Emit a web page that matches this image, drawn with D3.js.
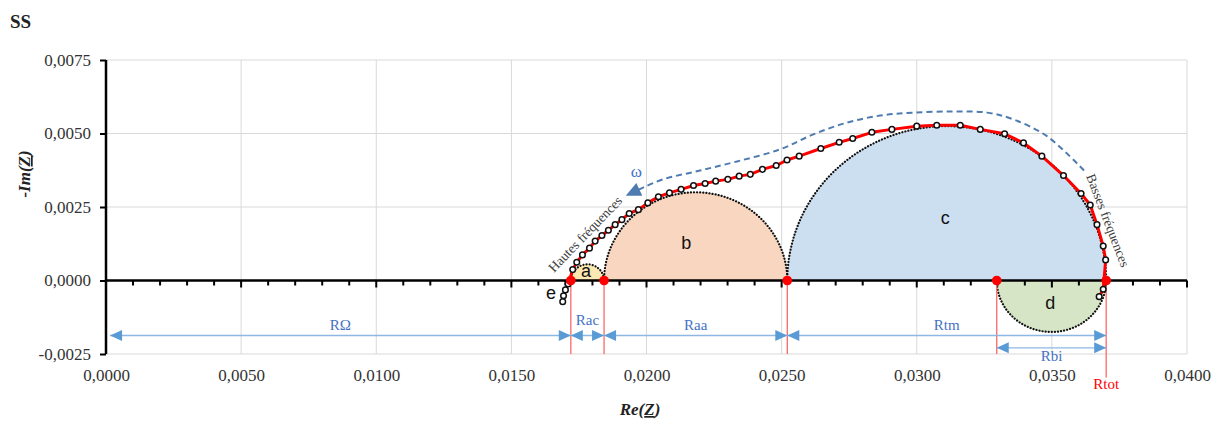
<!DOCTYPE html>
<html><head><meta charset="utf-8">
<script src="https://cdn.jsdelivr.net/npm/d3@7/dist/d3.min.js"></script>
<style>body{margin:0;background:#fff}svg{display:block}</style>
</head><body>
<svg id="chart" width="1218" height="423"></svg>
<script>
// ---- data ----
const reZ = [0.01690,0.01693,0.01700,0.01710,0.01727,0.01742,0.01763,0.01789,0.01810,0.01835,0.01859,0.01884,0.01909,0.01936,0.01970,0.02005,0.02044,0.02085,0.02128,0.02174,0.02217,0.02256,0.02301,0.02343,0.02384,0.02429,0.02480,0.02520,0.02565,0.02645,0.02713,0.02763,0.02834,0.02908,0.03000,0.03074,0.03161,0.03235,0.03325,0.03395,0.03463,0.03543,0.03608,0.03642,0.03667,0.03690,0.03699,0.03690,0.03675];
const imZ = [-0.00072,-0.00052,-0.00032,-0.00012,0.00037,0.00062,0.00087,0.00110,0.00134,0.00153,0.00171,0.00190,0.00207,0.00228,0.00241,0.00264,0.00285,0.00298,0.00310,0.00323,0.00330,0.00338,0.00344,0.00355,0.00361,0.00378,0.00391,0.00410,0.00423,0.00449,0.00470,0.00483,0.00504,0.00514,0.00525,0.00528,0.00528,0.00514,0.00499,0.00468,0.00423,0.00357,0.00296,0.00257,0.00190,0.00117,0.00070,-0.00030,-0.00055];
const resistances = [0.01720,0.01843,0.02521,0.03296,0.03701];
const arcNames = ["a","b","c","d"];
const arcStart = [0.01720,0.01843,0.02521,0.03296];
const arcEnd   = [0.01843,0.02521,0.03701,0.03701];
const arcPeak  = [0.00055,0.00300,0.00525,-0.00175];
const arcColors = ["#FCE8B2","#F8D6BF","#CCDFF1","#D6E5C6"];
const xTicks = [0,0.005,0.010,0.015,0.020,0.025,0.030,0.035,0.040];
const yTicks = [-0.0025,0,0.0025,0.0050,0.0075];
const dimLabels = ["RΩ","Rac","Raa","Rtm","Rbi"];
const dimFrom = [0.00015,0.01720,0.01843,0.02521,0.03296];
const dimTo   = [0.01720,0.01843,0.02521,0.03701,0.03701];
const omegaRe = [0.03619,0.03483,0.03357,0.03261,0.03135,0.02987,0.02865,0.02742,0.02617,0.02494,0.02335,0.02198,0.02061,0.01987,0.01950];
const omegaIm = [0.00374,0.00490,0.00548,0.00571,0.00575,0.00571,0.00561,0.00537,0.00497,0.00446,0.00405,0.00374,0.00344,0.00316,0.00300];

// ---- layout ----
const svg = d3.select("#chart");
const x = d3.scaleLinear().domain([0,0.04]).range([106,1187]);
const y = d3.scaleLinear().domain([-0.0025,0.0075]).range([354,60]);
const loc = d3.formatLocale({decimal:",",thousands:".",grouping:[3],currency:["","€"],minus:"-"});
const fmt = loc.format(".4f");
const serif = "'Liberation Serif','Times New Roman',serif";
const sans = "'Liberation Sans',Arial,sans-serif";

// title
svg.append("text").attr("x",10).attr("y",28).attr("font-family",serif).attr("font-size",19).attr("font-weight","bold").attr("fill","#222").text("SS");

// grid
svg.append("g").selectAll("line").data(xTicks).join("line")
  .attr("x1",d=>x(d)).attr("x2",d=>x(d)).attr("y1",y(-0.0025)).attr("y2",y(0.0075))
  .attr("stroke","#D9D9D9").attr("stroke-width",1);
svg.append("g").selectAll("line").data(yTicks).join("line")
  .attr("x1",x(0)).attr("x2",x(0.04)).attr("y1",d=>y(d)).attr("y2",d=>y(d))
  .attr("stroke","#D9D9D9").attr("stroke-width",1);

// arcs (half ellipses)
const arcG = svg.append("g");
arcNames.forEach((n,i)=>{
  const cx=(arcStart[i]+arcEnd[i])/2, rx=(arcEnd[i]-arcStart[i])/2;
  const pts=d3.range(0,181,2).map(a=>{const t=Math.PI*a/180;return [x(cx-rx*Math.cos(t)), y(arcPeak[i]*Math.sin(t))];});
  arcG.append("path").attr("d",d3.line()(pts)+"Z").attr("fill",arcColors[i]).attr("stroke","none");
  arcG.append("path").attr("d",d3.line()(pts)).attr("fill","none").attr("stroke","#111")
    .attr("stroke-width",2.2).attr("stroke-dasharray","0.1,3").attr("stroke-linecap","round");
});

// vertical red lines
const redEnds=[-0.0025,-0.0025,-0.0025,-0.0025,-0.00330];
svg.append("g").selectAll("line").data(resistances).join("line")
  .attr("x1",d=>x(d)).attr("x2",d=>x(d)).attr("y1",y(0)).attr("y2",(d,i)=>y(redEnds[i]))
  .attr("stroke","#FF6666").attr("stroke-width",1.3);

// axes
const xAxisLine = svg.append("g").attr("transform",`translate(0,${y(0)})`);
xAxisLine.append("line").attr("x1",x(0)).attr("x2",x(0.04)).attr("stroke","#000").attr("stroke-width",2.5);
xAxisLine.selectAll("line.t").data(d3.range(0,41)).join("line").attr("class","t")
  .attr("x1",d=>x(d/1000)).attr("x2",d=>x(d/1000)).attr("y1",0).attr("y2",d=>d%5===0?7:5)
  .attr("stroke","#000").attr("stroke-width",2);
const xLab = svg.append("g").attr("transform",`translate(0,${y(-0.0025)})`)
  .call(d3.axisBottom(x).tickValues(xTicks).tickFormat(fmt).tickSize(0).tickPadding(15));
xLab.select(".domain").remove();
xLab.selectAll("text").attr("font-family",serif).attr("font-size",17).attr("fill","#333");

const yAx = svg.append("g").attr("transform",`translate(${x(0)},0)`)
  .call(d3.axisLeft(y).tickValues(yTicks).tickFormat(fmt).tickSize(6).tickPadding(9));
yAx.select(".domain").attr("stroke","#000").attr("stroke-width",2.5).attr("d",`M0,${y(-0.0025)}V${y(0.0075)}`);
yAx.selectAll(".tick line").attr("stroke","#000").attr("stroke-width",2);
yAx.selectAll("text").attr("font-family",serif).attr("font-size",17).attr("fill","#333");

// axis titles
const xt = svg.append("text").attr("x",640).attr("y",415).attr("text-anchor","middle")
  .attr("font-family",serif).attr("font-size",17).attr("font-weight","bold").attr("font-style","italic").attr("fill","#222");
xt.append("tspan").text("Re(");
xt.append("tspan").attr("text-decoration","underline").text("Z");
xt.append("tspan").text(")");
const yt = svg.append("text").attr("transform","translate(30,174) rotate(-90)").attr("text-anchor","middle")
  .attr("font-family",serif).attr("font-size",17).attr("font-weight","bold").attr("font-style","italic").attr("fill","#222");
yt.append("tspan").text("-Im(");
yt.append("tspan").attr("text-decoration","underline").text("Z");
yt.append("tspan").text(")");

// omega dashed arrow
const omegaPts = omegaRe.map((v,i)=>[x(v),y(omegaIm[i])]);
svg.append("path").attr("d",d3.line().curve(d3.curveCatmullRom)(omegaPts)).attr("fill","none")
  .attr("stroke","#4F7CB0").attr("stroke-width",2).attr("stroke-dasharray","6,4");
{
  const n=omegaPts.length, p1=omegaPts[n-2], p2=omegaPts[n-1];
  const ang=Math.atan2(p2[1]-p1[1],p2[0]-p1[0]);
  const tip=[p2[0]+Math.cos(ang)*8,p2[1]+Math.sin(ang)*8];
  const L=15,W=7;
  const bx=tip[0]-Math.cos(ang)*L, by=tip[1]-Math.sin(ang)*L;
  svg.append("path").attr("d",`M${tip}L${bx-Math.sin(ang)*W},${by+Math.cos(ang)*W}L${bx+Math.sin(ang)*W},${by-Math.cos(ang)*W}Z`).attr("fill","#4F7CB0");
}
svg.append("text").attr("x",x(0.01962)).attr("y",y(0.00371)).attr("text-anchor","middle").attr("dominant-baseline","central")
  .attr("font-family",serif).attr("font-size",17).attr("fill","#4472C4").text("ω");

// data series
const pts = reZ.map((v,i)=>[x(v),y(imZ[i])]);
svg.append("path").attr("d",d3.line()(pts)).attr("fill","none").attr("stroke","#FF0000").attr("stroke-width",3).attr("stroke-linejoin","round");
svg.append("g").selectAll("circle").data(pts).join("circle")
  .attr("cx",d=>d[0]).attr("cy",d=>d[1]).attr("r",2.8).attr("fill","#fff").attr("stroke","#111").attr("stroke-width",1.5);

// red dots
svg.append("g").selectAll("circle").data(resistances).join("circle")
  .attr("cx",d=>x(d)).attr("cy",y(0)).attr("r",4.8).attr("fill","#FF0000");

// arc labels
const lblX=[0.01776,0.02147,0.03105,0.03494,0.01647];
const lblY=[0.00034,0.00126,0.00214,-0.00075,-0.00041];
["a","b","c","d","e"].forEach((t,i)=>{
  svg.append("text").attr("x",x(lblX[i])).attr("y",y(lblY[i])).attr("text-anchor","middle").attr("dominant-baseline","central")
    .attr("font-family",sans).attr("font-size",18).attr("fill","#111").text(t);
});

// frequency labels
svg.append("text").attr("transform",`translate(554,273) rotate(-46)`)
  .attr("font-family",serif).attr("font-size",13.5).attr("fill","#404040").text("Hautes fréquences");
svg.append("text").attr("transform",`translate(1086,176) rotate(69)`)
  .attr("font-family",serif).attr("font-size",13.5).attr("fill","#404040").text("Basses fréquences");

// dimension arrows
const dimY=[-0.00187,-0.00187,-0.00187,-0.00187,-0.00229];
const dimLblY=[-0.00153,-0.00134,-0.00153,-0.00153,-0.00258];
const dimG=svg.append("g");
function head(tx,ty,dir){ // dir -1 points left, 1 points right
  const L=12,W=5.5;
  dimG.append("path").attr("d",`M${tx},${ty}L${tx-dir*L},${ty-W}L${tx-dir*L},${ty+W}Z`).attr("fill","#5B9BD5");
}
dimLabels.forEach((l,i)=>{
  const x1=x(dimFrom[i]),x2=x(dimTo[i]),yy=y(dimY[i]);
  dimG.append("line").attr("x1",x1).attr("x2",x2).attr("y1",yy).attr("y2",yy).attr("stroke","#8DB8E4").attr("stroke-width",1.4);
  head(x1,yy,-1); head(x2,yy,1);
  dimG.append("text").attr("x",(x1+x2)/2).attr("y",y(dimLblY[i])).attr("text-anchor","middle").attr("dominant-baseline","central")
    .attr("font-family",serif).attr("font-size",15).attr("fill","#4472C4").text(l);
});
svg.append("text").attr("x",x(0.03701)).attr("y",y(-0.00353)).attr("text-anchor","middle").attr("dominant-baseline","central")
  .attr("font-family",serif).attr("font-size",15).attr("fill","#FF0000").text("Rtot");
</script>
</body></html>
